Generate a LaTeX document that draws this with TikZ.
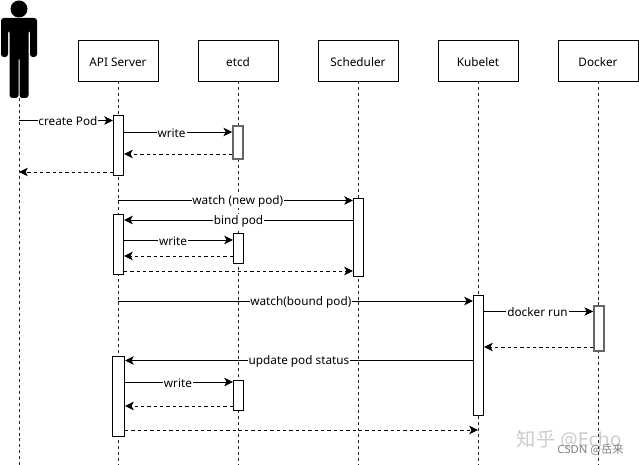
\documentclass[tikz,border=0pt]{standalone}
\usepackage{fontspec}
\setmainfont{Noto Sans}
\newfontfamily\cjk{Noto Sans CJK SC}
\usetikzlibrary{arrows.meta}

\begin{document}
\begin{tikzpicture}[x=0.02cm,y=-0.02cm,>={Stealth[length=5pt,width=4.8pt,inset=1.3pt]},
    font=\fontsize{6.7}{8}\selectfont,line width=0.55pt]
  \tikzstyle{actor}=[rectangle,draw=black,fill=white,minimum width=1.6cm,minimum height=0.82cm,
    text height=6.8pt,text depth=0pt]
  \tikzstyle{bar}=[rectangle,draw=black,fill=white,minimum width=0.2cm,inner sep=0pt]
  \tikzstyle{grey bar}=[bar,draw=black!60,line width=0.9pt]
  \tikzstyle{life}=[densely dashed,dash pattern=on 1.7pt off 1.7pt,draw=black!85]
  \tikzstyle{msg}=[->]
  \tikzstyle{reply}=[->,dash pattern=on 1.9pt off 1.7pt]
  \tikzstyle{msg label}=[fill=white,inner xsep=0.5pt,inner ysep=0.5pt,yshift=-.6pt]
  \useasboundingbox (0,0) rectangle (639,465);

  % the person
  \fill (19,9) circle [radius=8.5];
  \fill [rounded corners=1.6pt] (1,57) -- (1,18) -- (37,18) -- (37,57) -- (30,57) -- (30,30)
    -- (28.5,30) -- (28.5,98) -- (19.5,98) -- (19.5,57) -- (18.5,57) -- (18.5,98)
    -- (9.5,98) -- (9.5,30) -- (8,30) -- (8,57) -- cycle;
  \coordinate (user) at (19,98);
  \coordinate (userend) at (19,465);

  \node [actor] (api)   at (118,60.5) {API Server};
  \node [actor] (etcd)  at (238,60.5) {etcd};
  \node [actor] (sched) at (358,60.5) {Scheduler};
  \node [actor] (kube)  at (478,60.5) {Kubelet};
  \node [actor] (dock)  at (598,60.5) {Docker};

  % life lines
  \draw [life] (user) -- (userend);
  \draw [life] (api.south)   -- (api.south |- userend);
  \draw [life] (etcd.south)  -- (etcd.south |- userend);
  \draw [life] (sched.south) -- (sched.south |- userend);
  \draw [life] (kube.south)  -- (kube.south |- userend);
  \draw [life] (dock.south)  -- (dock.south |- userend);

  \node [bar,minimum height=1.2cm]       (api1)   at (118.5,145) {};
  \node [grey bar,minimum height=0.66cm] (etcd1)  at (238,142.5) {};
  \node [bar,minimum height=1.2cm]       (api2)   at (118.5,244) {};
  \node [bar,minimum height=0.6cm]       (etcd2)  at (238.5,248) {};
  \node [bar,minimum height=1.56cm]      (sched1) at (358.5,237) {};
  \node [bar,minimum height=2.4cm]       (kube1)  at (478.5,355) {};
  \node [grey bar,minimum height=0.9cm]  (dock1)  at (599,328.5) {};
  \node [bar,minimum width=0.24cm,minimum height=1.6cm] (api3) at (118.5,396) {};
  \node [bar,minimum height=0.6cm]       (etcd3)  at (238.5,395) {};

  % first round
  \draw [msg] (user |- 0,120.5) -- node[msg label,pos=.52] (l1) {create Pod} (api1.west |- 0,120.5);
  \draw [msg] (api1.east |- 0,132) -- node[msg label,pos=.44] (l2) {write} (etcd1.west |- 0,132);
  \draw [reply] (etcd1.west |- 0,154) -- (api1.east |- 0,154);
  \draw [reply] (api1.west |- 0,172) -- (user |- 0,172);

  % second round
  \draw [msg] (api.south |- 0,200.5) -- node[msg label,pos=.51] (l3) {watch (new pod)} (sched1.west |- 0,200.5);
  \draw [msg] (sched1.west |- 0,220) -- node[msg label] (l4) {bind pod} (api2.east |- 0,220);
  \draw [msg] (api2.east |- 0,240) -- node[msg label,pos=.45] (l5) {write} (etcd2.west |- 0,240);
  \draw [reply] (etcd2.west |- 0,256) -- (api2.east |- 0,256);
  \draw [reply] (api2.east |- 0,271) -- (sched1.west |- 0,271);

  % third round
  \draw [msg] (api.south |- 0,301) -- node[msg label,pos=.515] (l6) {watch(bound pod)} (kube1.west |- 0,301);
  \draw [msg] (kube1.east |- 0,311.5) -- node[msg label,pos=.49] (l7) {docker run} (dock1.west |- 0,311.5);
  \draw [reply] (dock1.west |- 0,347) -- (kube1.east |- 0,347);
  \draw [msg] (kube1.west |- 0,360.5) -- node[msg label,pos=.5] (l8) {update pod status} (api3.east |- 0,360.5);
  \draw [msg] (api3.east |- 0,382) -- node[msg label,pos=.49] (l9) {write} (etcd3.west |- 0,382);
  \draw [reply] (etcd3.west |- 0,406) -- (api3.east |- 0,406);
  \draw [reply] (api3.east |- 0,430) -- (kube.south |- 0,430);

  % marks in the corner
  \node [text=black!20,font=\fontsize{11}{13}\selectfont,anchor=east,inner sep=0pt] (mark1) at (622,439) {{\cjk 知乎} @Echo};
  \node [text=black!50,font=\fontsize{6.4}{8}\selectfont,anchor=east,inner sep=0pt] (mark2) at (624,450) {CSDN {\cjk @岳来}};
\end{tikzpicture}
\end{document}
